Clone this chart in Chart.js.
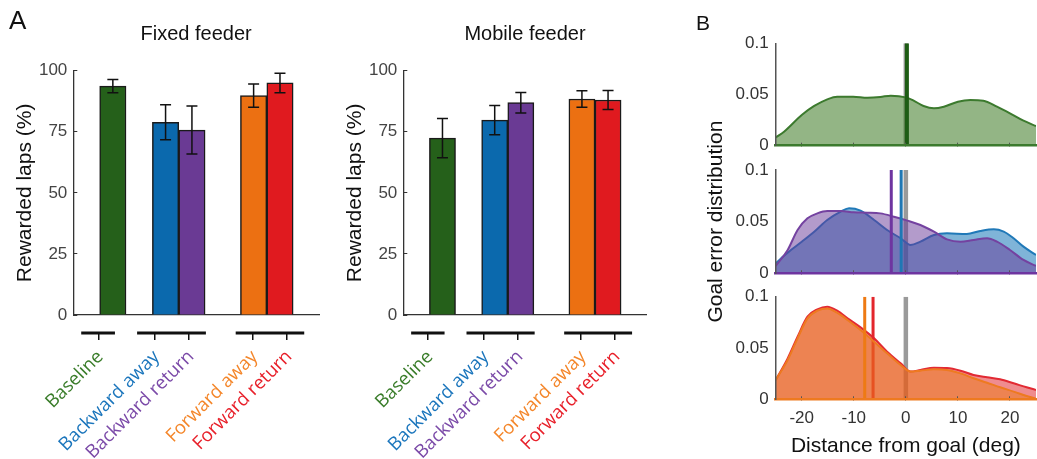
<!DOCTYPE html>
<html>
<head>
<meta charset="utf-8">
<script src="https://cdn.jsdelivr.net/npm/chart.js@4.4.1/dist/chart.umd.min.js"></script>
<style>
  body { margin: 0; background: #fff; }
  #figura { position: relative; width: 1037px; height: 459px; overflow: hidden; background: #fff; }
  #figura canvas, .letra { position: absolute; }
  .letra { font-family: "Liberation Sans", Arial, sans-serif; color: #111; line-height: 1; }
</style>
</head>
<body>
<div id="figura">
  <canvas id="grafFijo" width="320" height="459" style="left:0;top:0"></canvas>
  <canvas id="grafMovil" width="318" height="459" style="left:330px;top:0"></canvas>
  <canvas id="distBase" width="347" height="459" style="left:690px;top:0"></canvas>
  <canvas id="distAtras" width="347" height="459" style="left:690px;top:0"></canvas>
  <canvas id="distAdelante" width="347" height="459" style="left:690px;top:0"></canvas>
  <div class="letra" style="left:9px;top:7px;font-size:26px">A</div>
  <div class="letra" style="left:696px;top:12px;font-size:21px">B</div>
</div>
<script>
// ===== Panel A: vueltas recompensadas =====
const categorias = ["Baseline", "Backward away", "Backward return", "Forward away", "Forward return"];
const coloresBarras = ["#25601a", "#0b69ad", "#6a3a94", "#ec7012", "#e01a1f"];
const coloresEtiquetas = ["#3a7d2a", "#1a75bc", "#7b4aa8", "#f4862a", "#e8202a"];
const posBarras = [1.5, 3.5, 4.5, 6.84, 7.84];
const posEtiquetas = [0.95, 3.08, 4.39, 6.81, 8.11];
const gruposEtiquetas = [[0.3, 1.58], [2.42, 5.03], [6.16, 8.76]];
const ticksPorcentaje = [0, 25, 50, 75, 100];

const fijoMedias = [93.7, 78.9, 75.7, 89.8, 95.0];
const fijoErrores = [2.7, 7.2, 9.8, 4.8, 4.0];
const movilMedias = [72.4, 79.8, 86.9, 88.4, 88.0];
const movilErrores = [8.0, 6.0, 4.2, 3.4, 3.9];

// ===== Panel B: distribución del error respecto a la meta =====
const ticksDistancia = [-20, -10, 0, 10, 20];
const ticksDensidad = [0, 0.05, 0.1];

const baseX = [-25, -23.4, -20, -17.6, -15.1, -13.2, -10.1, -7.4, -4.9, -2.9, 0, 1.5, 3.4, 5.4, 7.3, 10, 12.4, 14.9, 17.5, 20, 22.6, 25];
const baseY = [0.008, 0.0137, 0.030, 0.0388, 0.0453, 0.0479, 0.0479, 0.0469, 0.0476, 0.0489, 0.0472, 0.044, 0.0388, 0.0365, 0.0381, 0.043, 0.0446, 0.044, 0.0381, 0.0316, 0.0244, 0.0192];
const baseMediana = 0.2;

const atrasIdaX = [-25, -22.7, -20, -17.6, -15.1, -12.5, -10.9, -8.7, -6.1, -3.6, -1, 0.9, 2.8, 5.4, 7.9, 11.7, 14.3, 16.9, 18.8, 20.7, 22.6, 25];
const atrasIdaY = [0.0097, 0.020, 0.0306, 0.0403, 0.0516, 0.0597, 0.0629, 0.0606, 0.0516, 0.0419, 0.0339, 0.0274, 0.0306, 0.0371, 0.0387, 0.0381, 0.041, 0.0426, 0.0403, 0.0339, 0.0258, 0.0177];
const atrasVueltaX = [-25, -22.7, -20.8, -18.9, -17, -15.1, -12.5, -10, -7.4, -4.9, -2.3, 0.3, 2.8, 5.4, 7.9, 10.5, 13, 15.6, 17.5, 20, 22.6, 25];
const atrasVueltaY = [0.0071, 0.0226, 0.0419, 0.0532, 0.058, 0.0603, 0.0603, 0.059, 0.0587, 0.058, 0.0548, 0.051, 0.0468, 0.0403, 0.0329, 0.0306, 0.0323, 0.0339, 0.0306, 0.0226, 0.0129, 0.0071];
const atrasIdaMediana = -0.9;
const atrasVueltaMediana = -2.8;

const adelanteX = [-25, -22.7, -20.8, -18.9, -17, -15.1, -13.2, -11.2, -8.7, -6.1, -3.6, -1, 0.9, 2.8, 5.4, 7.9, 10.5, 13, 15.6, 18.1, 20.7, 23.2, 25];
const adelanteIdaY = [0.0188, 0.0383, 0.0594, 0.0789, 0.0864, 0.0886, 0.0844, 0.0773, 0.0675, 0.0562, 0.0448, 0.0334, 0.027, 0.0279, 0.0292, 0.0286, 0.0253, 0.0205, 0.0162, 0.0117, 0.0075, 0.0032, 0.0006];
const adelanteVueltaY = [0.0188, 0.0399, 0.061, 0.0805, 0.0877, 0.0903, 0.0864, 0.0789, 0.0701, 0.0594, 0.0464, 0.0351, 0.027, 0.0286, 0.0308, 0.0305, 0.0279, 0.0237, 0.0214, 0.0195, 0.0156, 0.0117, 0.0091];
const adelanteIdaMediana = -7.9;
const adelanteVueltaMediana = -6.3;
const metaReferencia = 0;

Chart.defaults.font.family = "'Liberation Sans', Arial, sans-serif";
Chart.defaults.color = "#333";

// Barras de error (media ± error) encima de cada barra
const barrasError = {
  id: "barrasError",
  afterDatasetsDraw(chart) {
    const ds = chart.data.datasets[0];
    const meta = chart.getDatasetMeta(0);
    const ejeY = chart.scales.y;
    const ctx = chart.ctx;
    ctx.save();
    ctx.strokeStyle = "#111";
    ctx.lineWidth = 1.5;
    meta.data.forEach((barra, i) => {
      const v = ds.data[i].y, e = ds.errores[i];
      const arriba = ejeY.getPixelForValue(v + e);
      const abajo = ejeY.getPixelForValue(v - e);
      ctx.beginPath();
      ctx.moveTo(barra.x, arriba); ctx.lineTo(barra.x, abajo);
      ctx.moveTo(barra.x - 5.5, arriba); ctx.lineTo(barra.x + 5.5, arriba);
      ctx.moveTo(barra.x - 5.5, abajo); ctx.lineTo(barra.x + 5.5, abajo);
      ctx.stroke();
    });
    ctx.restore();
  }
};

// Líneas negras que agrupan las condiciones debajo del eje
const lineasGrupo = {
  id: "lineasGrupo",
  afterDraw(chart) {
    const eje = chart.scales.x2;
    const ctx = chart.ctx;
    ctx.save();
    ctx.strokeStyle = "#111";
    ctx.lineWidth = 3;
    gruposEtiquetas.forEach(([a, b]) => {
      ctx.beginPath();
      ctx.moveTo(eje.getPixelForValue(a), eje.top + 1);
      ctx.lineTo(eje.getPixelForValue(b), eje.top + 1);
      ctx.stroke();
    });
    ctx.restore();
  }
};

function crearBarras(idCanvas, titulo, medias, errores, padDerecha) {
  return new Chart(document.getElementById(idCanvas), {
    type: "bar",
    data: {
      datasets: [{
        data: posBarras.map((x, i) => ({ x, y: medias[i] })),
        errores: errores,
        backgroundColor: coloresBarras,
        borderColor: "#1a1a1a",
        borderWidth: 1.5,
        barPercentage: 1,
        categoryPercentage: 1
      }]
    },
    options: {
      responsive: false,
      animation: false,
      events: [],
      layout: { padding: { left: 0, right: padDerecha, top: 0, bottom: 0 } },
      plugins: {
        legend: { display: false },
        tooltip: { enabled: false },
        title: {
          display: true, text: titulo, fullSize: false, color: "#111",
          font: { size: 20, weight: "normal" },
          padding: { top: 22, bottom: 24.7 }
        }
      },
      scales: {
        x: {
          type: "linear", min: 0, max: 9.32, weight: 0, offset: false,
          grid: { display: false, drawTicks: false, offset: false },
          ticks: { display: false },
          border: { color: "#333", width: 1.3 },
          afterFit: s => { s.height = 17; }
        },
        x2: {
          type: "linear", position: "bottom", min: 0, max: 9.32, weight: 1, offset: false,
          afterBuildTicks: s => { s.ticks = posEtiquetas.map(v => ({ value: v })); },
          ticks: {
            autoSkip: false, minRotation: 45, maxRotation: 45, padding: 6, labelOffset: 2,
            font: { family: "'Open Sans', sans-serif", size: 18.5 },
            color: c => coloresEtiquetas[c.index],
            callback: (v, i) => categorias[i]
          },
          grid: { drawOnChartArea: false, drawTicks: true, tickLength: 8, offset: false, color: "#111", lineWidth: 1.5 },
          border: { display: false },
          afterFit: s => { s.height = 127; }
        },
        y: {
          min: 0, max: 100,
          afterBuildTicks: s => { s.ticks = ticksPorcentaje.map(v => ({ value: v })); },
          // marcas hacia dentro: tickLength negativo, el padding compensa
          ticks: { padding: 10, color: "#444", font: { size: 17 } },
          grid: { drawOnChartArea: false, drawTicks: true, tickLength: -4, color: "#333", lineWidth: 1 },
          border: { color: "#333", width: 1.3 },
          title: {
            display: true, text: "Rewarded laps (%)", color: "#111",
            font: { size: 21 }, padding: { top: 12.4, bottom: 0 }
          },
          afterFit: s => { s.width = 73.3; }
        }
      }
    },
    plugins: [barrasError, lineasGrupo]
  });
}

crearBarras("grafFijo", "Fixed feeder", fijoMedias, fijoErrores, 1);
crearBarras("grafMovil", "Mobile feeder", movilMedias, movilErrores, 1.3);

// Curva de densidad rellena
function curva(xs, ys, borde, relleno, orden) {
  return {
    data: xs.map((x, i) => ({ x, y: ys[i] })),
    borderColor: borde, backgroundColor: relleno, fill: "origin",
    borderWidth: 2, pointRadius: 0, tension: 0.4,
    cubicInterpolationMode: "monotone", order: orden
  };
}

// Línea vertical de la mediana (o de la meta)
function mediana(x, color, ancho, orden) {
  return {
    data: [{ x, y: 0 }, { x, y: 0.1 }],
    borderColor: color, borderWidth: ancho, pointRadius: 0,
    fill: false, order: orden
  };
}

function crearDensidad(idCanvas, datasets, colorEje, arriba, abajo, conEjeX, tituloY) {
  return new Chart(document.getElementById(idCanvas), {
    type: "line",
    data: { datasets },
    options: {
      responsive: false,
      animation: false,
      events: [],
      layout: { padding: { left: 0, right: 1, top: arriba, bottom: 0 } },
      plugins: { legend: { display: false }, tooltip: { enabled: false } },
      scales: {
        x: {
          type: "linear", min: -25, max: 25,
          afterBuildTicks: s => { s.ticks = ticksDistancia.map(v => ({ value: v })); },
          ticks: { display: conEjeX, padding: 12, color: "#333", font: { size: 17 } },
          grid: { drawOnChartArea: false, drawTicks: true, tickLength: -3, color: "#555", lineWidth: 1, z: 1 },
          border: { color: colorEje, width: 2.5, z: 1 },
          title: {
            display: conEjeX, text: "Distance from goal (deg)", color: "#111",
            font: { size: 21 }, padding: { top: 0, bottom: 0 }
          },
          afterFit: s => { s.height = 459 - abajo; }
        },
        y: {
          min: 0, max: 0.1,
          afterBuildTicks: s => { s.ticks = ticksDensidad.map(v => ({ value: v })); },
          ticks: { padding: 7, color: "#333", font: { size: 17 }, callback: v => String(+v.toFixed(2)) },
          grid: { display: false, drawTicks: false },
          border: { color: "#555", width: 1.5, z: 1 },
          title: {
            display: !!tituloY, text: tituloY || "", color: "#111",
            font: { size: 21 }, padding: { top: 14, bottom: 0 }
          },
          afterFit: s => { s.width = 85.7; }
        }
      }
    }
  });
}

crearDensidad("distBase", [
  mediana(baseMediana, "#1e5c14", 4, 0),
  curva(baseX, baseY, "#3c7a2e", "rgba(39,107,11,0.5)", 8),
  mediana(metaReferencia, "#9a9a9a", 4.5, 10)
], "#3c7a2e", 43.3, 145.7, false, null);

crearDensidad("distAtras", [
  mediana(atrasVueltaMediana, "#6e35a0", 3, 0),
  mediana(atrasIdaMediana, "#1f77b4", 3, 1),
  curva(atrasVueltaX, atrasVueltaY, "#7442a0", "rgba(103,56,152,0.5)", 7),
  curva(atrasIdaX, atrasIdaY, "#2079b8", "rgba(0,105,177,0.5)", 8),
  mediana(metaReferencia, "#9a9a9a", 4.5, 10)
], "#6e35a0", 170, 273.3, false, "Goal error distribution");

crearDensidad("distAdelante", [
  mediana(adelanteIdaMediana, "#ee7a14", 3, 0),
  curva(adelanteX, adelanteIdaY, "#ee7a20", "rgba(236,124,21,0.5)", 5),
  mediana(adelanteVueltaMediana, "#e3262c", 3, 6),
  curva(adelanteX, adelanteVueltaY, "#e22a33", "rgba(224,26,31,0.5)", 8),
  mediana(metaReferencia, "#9a9a9a", 4.5, 10)
], "#ee7a20", 296.7, 399.3, true, null);
</script>
</body>
</html>
